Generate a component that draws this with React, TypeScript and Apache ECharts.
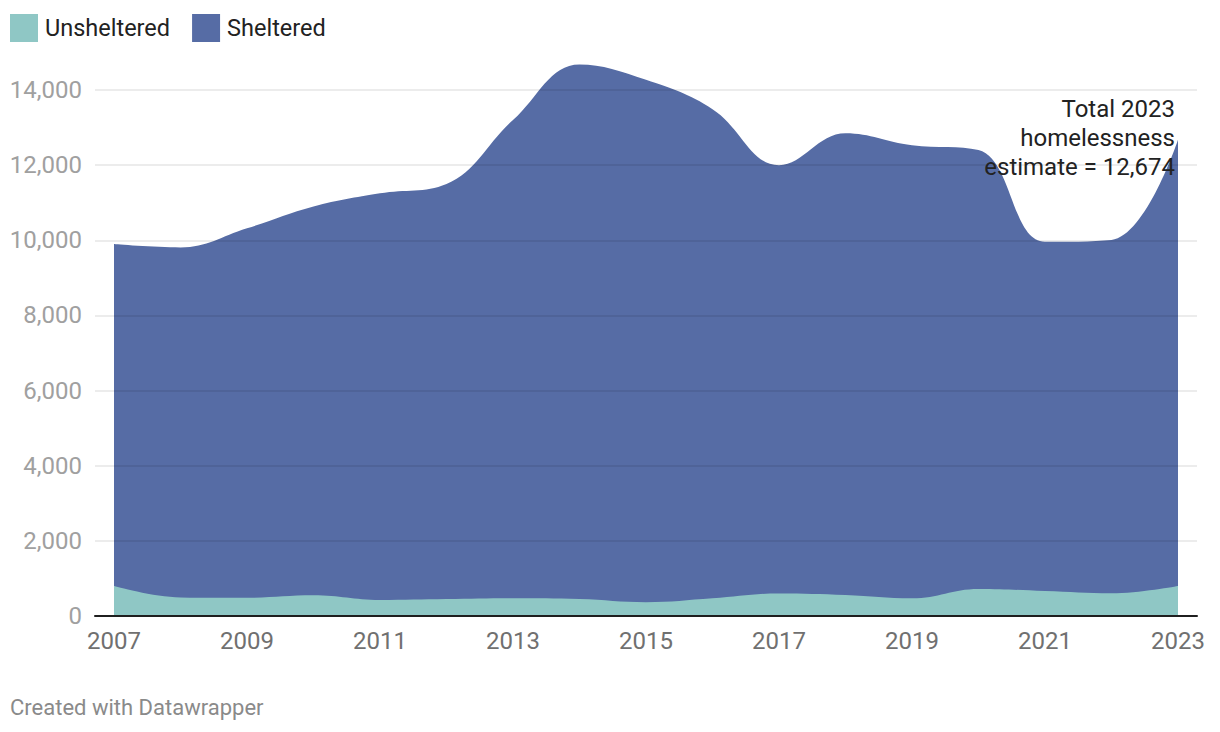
import React, { useEffect, useRef } from "react";
import * as echarts from "echarts";

const years = [2007, 2008, 2009, 2010, 2011, 2012, 2013, 2014, 2015, 2016, 2017, 2018, 2019, 2020, 2021, 2022, 2023];
const unsheltered = [800, 495, 485, 550, 425, 450, 470, 450, 365, 470, 600, 560, 470, 720, 665, 605, 800];
const sheltered = [9100, 9315, 9835, 10350, 10825, 11050, 12730, 14230, 13905, 13020, 11400, 12290, 12060, 11680, 9295, 9405, 11874];
const xTickLabels = [2007, 2009, 2011, 2013, 2015, 2017, 2019, 2021, 2023];
const seriesNames = ["Unsheltered", "Sheltered"];
const annotation = "Total 2023\nhomelessness\nestimate = 12,674";
const footer = "Created with Datawrapper";

const FONT = "Roboto, 'Noto Sans', sans-serif";

export default function App() {
  const ref = useRef<HTMLDivElement>(null);
  useEffect(() => {
    if (!ref.current) return;
    const chart = echarts.init(ref.current, null, { renderer: "svg" });
    // stacked top edge = unsheltered + sheltered (drawn behind the unsheltered area)
    const stackedTop = years.map((y, i) => [y, unsheltered[i] + sheltered[i]]);
    const bottom = years.map((y, i) => [y, unsheltered[i]]);
    chart.setOption({
      animation: false,
      backgroundColor: "#ffffff",
      textStyle: { fontFamily: FONT },
      legend: {
        left: 10,
        top: 14,
        padding: 0,
        icon: "rect",
        itemWidth: 28,
        itemHeight: 28,
        itemGap: 22,
        data: seriesNames,
        textStyle: { fontSize: 23.5, color: "#222222", fontFamily: FONT, padding: [0, 0, 0, 2] },
      },
      grid: { left: 95, right: 23, top: 90, bottom: 116, containLabel: false },
      xAxis: {
        type: "value",
        min: 2007 - 19 / 66.5,
        max: 2023 + 19 / 66.5,
        z: 5,
        axisLine: { show: true, onZero: false, lineStyle: { color: "#1f1f1f", width: 2 } },
        axisTick: { show: false },
        splitLine: { show: false },
        axisLabel: {
          customValues: xTickLabels,
          formatter: (v: number) => String(v),
          fontSize: 24,
          color: "#707070",
          margin: 13,
          fontFamily: FONT,
        },
      },
      yAxis: {
        type: "value",
        min: 0,
        max: 14000,
        interval: 2000,
        z: 4,
        axisLine: { show: false },
        axisTick: { show: false },
        splitLine: { show: true, lineStyle: { color: "rgba(0,0,0,0.1)", width: 1.5 } },
        axisLabel: {
          fontSize: 24,
          color: "#a0a0a0",
          margin: 13,
          fontFamily: FONT,
          formatter: (v: number) => v.toLocaleString("en-US"),
        },
      },
      series: [
        {
          name: seriesNames[1],
          type: "line",
          smooth: 0.4,
          showSymbol: false,
          clip: false,
          z: 2,
          lineStyle: { width: 0 },
          itemStyle: { color: "#566ca5" },
          areaStyle: { color: "#566ca5", opacity: 1 },
          data: stackedTop,
        },
        {
          name: seriesNames[0],
          type: "line",
          smooth: 0.4,
          showSymbol: false,
          clip: false,
          z: 3,
          lineStyle: { width: 0 },
          itemStyle: { color: "#8fc7c5" },
          areaStyle: { color: "#8fc7c5", opacity: 1 },
          data: bottom,
        },
      ],
      graphic: [
        {
          type: "text",
          x: 1175,
          y: 94,
          z: 10,
          style: {
            text: annotation,
            align: "right",
            verticalAlign: "top",
            font: `24px ${FONT}`,
            lineHeight: 29,
            fill: "#222222",
          },
        },
        {
          type: "text",
          x: 10,
          y: 696,
          style: {
            text: footer,
            verticalAlign: "top",
            font: `22px ${FONT}`,
            fill: "#8a8a8a",
          },
        },
      ],
    });
    return () => chart.dispose();
  }, []);
  return <div ref={ref} style={{ position: "absolute", left: 0, top: 0, width: 1220, height: 732 }} />;
}
